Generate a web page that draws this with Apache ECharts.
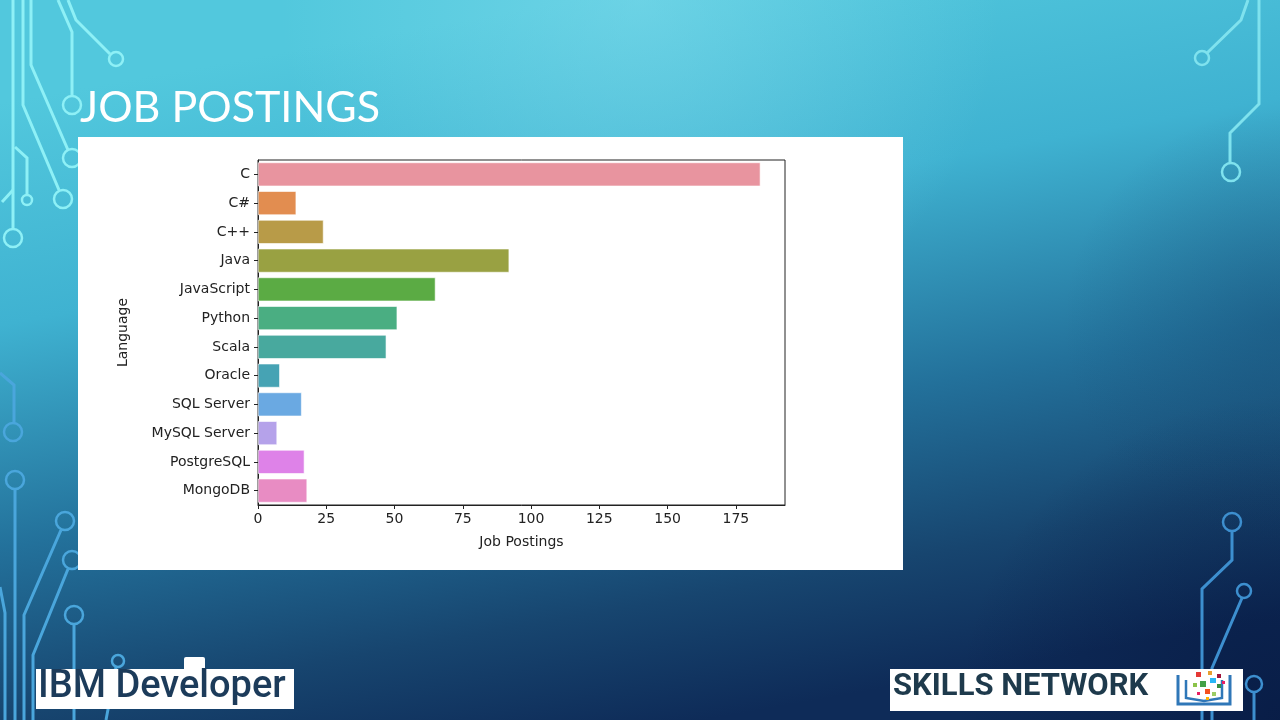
<!DOCTYPE html>
<html>
<head>
    <meta charset="utf-8">
    <title>Job Postings</title>
    <script type="text/javascript" src="https://cdn.jsdelivr.net/npm/echarts@6/dist/echarts.min.js"></script>
    <style>
        html, body { margin: 0; padding: 0; }
        #main { width: 1280px; height: 720px; }
    </style>
</head>
<body>
<div id="main"></div>

<script type="text/javascript">
    // data
    var languages = ['C', 'C#', 'C++', 'Java', 'JavaScript', 'Python', 'Scala', 'Oracle',
        'SQL Server', 'MySQL Server', 'PostgreSQL', 'MongoDB'];
    var postings = [184, 14, 24, 92, 65, 51, 47, 8, 16, 7, 17, 18];
    var barColors = ['#e8949f', '#e28d50', '#b89b48', '#99a142', '#5bab44', '#4aae82',
        '#48a99e', '#46a3b4', '#6aa9e2', '#b5a2ea', '#de82e8', '#e88cc3'];

    var myChart = echarts.init(document.getElementById('main'));

    // circuit decoration helpers
    function wire(points, color) {
        return { type: 'polyline', silent: true, z: 1,
            shape: { points: points },
            style: { stroke: color, lineWidth: 3, fill: null } };
    }
    function pad(cx, cy, r, color) {
        return { type: 'circle', silent: true, z: 1,
            shape: { cx: cx, cy: cy, r: r },
            style: { stroke: color, lineWidth: 2.5, fill: null } };
    }

    var lightC = '#8ef0f6';
    var midC = '#7fe2ee';
    var blueC = '#4aa6dc';

    var graphics = [
        // background
        { type: 'rect', silent: true, z: 0, shape: { x: 0, y: 0, width: 1280, height: 720 },
            style: { fill: new echarts.graphic.LinearGradient(0.45, 0, 0.55, 1, [
                { offset: 0, color: '#52c8dd' },
                { offset: 0.3, color: '#3fb2d1' },
                { offset: 0.6, color: '#23719b' },
                { offset: 0.83, color: '#17456f' },
                { offset: 1, color: '#0e2b58' }]) } },
        { type: 'rect', silent: true, z: 0, shape: { x: 0, y: 0, width: 1280, height: 720 },
            style: { fill: new echarts.graphic.RadialGradient(0.5, 0, 0.5, [
                { offset: 0, color: 'rgba(140,225,240,0.45)' },
                { offset: 1, color: 'rgba(140,225,240,0)' }]) } },
        { type: 'rect', silent: true, z: 0, shape: { x: 0, y: 0, width: 1280, height: 720 },
            style: { fill: new echarts.graphic.RadialGradient(1, 1, 0.45, [
                { offset: 0, color: 'rgba(5,20,60,0.6)' },
                { offset: 1, color: 'rgba(5,20,60,0)' }]) } },
        { type: 'rect', silent: true, z: 0, shape: { x: 0, y: 0, width: 1280, height: 720 },
            style: { fill: new echarts.graphic.RadialGradient(1, 0.45, 0.3, [
                { offset: 0, color: 'rgba(20,70,110,0.35)' },
                { offset: 1, color: 'rgba(20,70,110,0)' }]) } },

        // top-left circuits
        wire([[13, 0], [13, 229]], lightC), pad(13, 238, 9, lightC),
        wire([[23, 0], [23, 105], [59, 190]], lightC), pad(63, 199, 9, lightC),
        wire([[31, 0], [31, 65], [68, 150]], lightC), pad(72, 158, 9, lightC),
        wire([[58, 0], [72, 32], [72, 96]], lightC), pad(72, 105, 9, lightC),
        wire([[68, 0], [76, 20], [110, 54]], lightC), pad(116, 59, 7, lightC),
        wire([[15, 147], [27, 158], [27, 195]], lightC), pad(27, 200, 5, lightC),
        wire([[2, 202], [13, 190]], lightC),

        // bottom-left circuits
        wire([[0, 373], [14, 385], [14, 423]], blueC), pad(13, 432, 9, blueC),
        pad(15, 480, 9, blueC), wire([[15, 489], [15, 720]], blueC),
        pad(65, 521, 9, blueC), wire([[61, 530], [24, 615], [24, 720]], blueC),
        pad(72, 560, 9, blueC), wire([[68, 569], [33, 655], [33, 720]], blueC),
        pad(74, 615, 9, blueC), wire([[74, 624], [74, 720]], blueC),
        pad(118, 661, 6, blueC), wire([[116, 667], [106, 720]], blueC),
        wire([[0, 587], [5, 613], [5, 720]], blueC),

        // top-right circuits
        wire([[1248, 0], [1241, 20], [1207, 53]], midC), pad(1202, 58, 7, midC),
        wire([[1259, 0], [1259, 104], [1230, 133], [1230, 163]], midC), pad(1231, 172, 9, midC),

        // bottom-right circuits
        pad(1232, 522, 9, '#3d8fcf'), wire([[1232, 531], [1232, 560], [1202, 589], [1202, 720]], '#3d8fcf'),
        pad(1244, 591, 7, '#3d8fcf'), wire([[1242, 598], [1212, 668], [1212, 720]], '#3d8fcf'),
        pad(1254, 684, 8, '#3d8fcf'), wire([[1254, 692], [1254, 720]], '#3d8fcf'),

        // slide title
        { type: 'text', z: 2, left: 80, top: 87,
            style: { text: 'JOB POSTINGS', fill: '#ffffff', font: '43px "Lato", sans-serif' } },

        // white chart panel
        { type: 'rect', silent: true, z: 2, shape: { x: 78, y: 137, width: 825, height: 433 },
            style: { fill: '#ffffff' } },

        // IBM Developer logo
        { type: 'rect', silent: true, z: 2, shape: { x: 36, y: 669, width: 258, height: 40 },
            style: { fill: '#ffffff' } },
        { type: 'rect', silent: true, z: 3, shape: { x: 184, y: 657, width: 21, height: 15, r: 2 },
            style: { fill: '#ffffff' } },
        { type: 'text', z: 3, left: 38, top: 668,
            style: { text: 'IBM Developer', fill: '#1c3b5a', font: '500 38px "Roboto", sans-serif' } },

        // Skills Network logo
        { type: 'rect', silent: true, z: 2, shape: { x: 890, y: 669, width: 353, height: 42 },
            style: { fill: '#ffffff' } },
        { type: 'text', z: 3, left: 893, top: 672,
            style: { text: 'SKILLS NETWORK', fill: '#1e3a4c', font: 'bold 31px "Roboto", sans-serif' } },
        { type: 'polyline', z: 3, silent: true,
            shape: { points: [[1178, 675], [1178, 704], [1204, 704], [1230, 704], [1230, 675]] },
            style: { stroke: '#2f77b8', lineWidth: 3, fill: null } },
        { type: 'polyline', z: 3, silent: true,
            shape: { points: [[1186, 680], [1186, 698], [1204, 701], [1222, 698], [1222, 680]] },
            style: { stroke: '#2f77b8', lineWidth: 2.5, fill: null } },
        { type: 'rect', z: 4, silent: true, shape: { x: 1196, y: 672, width: 5, height: 5 }, style: { fill: '#e53935' } },
        { type: 'rect', z: 4, silent: true, shape: { x: 1208, y: 671, width: 4, height: 4 }, style: { fill: '#e8a030' } },
        { type: 'rect', z: 4, silent: true, shape: { x: 1217, y: 674, width: 4, height: 4 }, style: { fill: '#a0143c' } },
        { type: 'rect', z: 4, silent: true, shape: { x: 1193, y: 683, width: 4, height: 4 }, style: { fill: '#8bc34a' } },
        { type: 'rect', z: 4, silent: true, shape: { x: 1200, y: 681, width: 6, height: 6 }, style: { fill: '#43a047' } },
        { type: 'rect', z: 4, silent: true, shape: { x: 1210, y: 678, width: 6, height: 5 }, style: { fill: '#29b6f6' } },
        { type: 'rect', z: 4, silent: true, shape: { x: 1217, y: 684, width: 4, height: 4 }, style: { fill: '#388e3c' } },
        { type: 'rect', z: 4, silent: true, shape: { x: 1205, y: 689, width: 5, height: 5 }, style: { fill: '#f4511e' } },
        { type: 'rect', z: 4, silent: true, shape: { x: 1212, y: 692, width: 4, height: 4 }, style: { fill: '#9ccc65' } },
        { type: 'rect', z: 4, silent: true, shape: { x: 1197, y: 692, width: 3, height: 3 }, style: { fill: '#e91e63' } },
        { type: 'rect', z: 4, silent: true, shape: { x: 1222, y: 681, width: 3, height: 3 }, style: { fill: '#e91e63' } },
        { type: 'rect', z: 4, silent: true, shape: { x: 1206, y: 697, width: 3, height: 3 }, style: { fill: '#ffb300' } }
    ];

    var option = {
        animation: false,
        graphic: graphics,
        textStyle: { fontFamily: 'DejaVu Sans' },
        grid: {
            left: 258, top: 160, width: 527, height: 345,
            show: true, borderColor: '#222222', borderWidth: 1, backgroundColor: 'transparent',
            z: 5
        },
        xAxis: {
            type: 'value', min: 0, max: 193, interval: 25,
            name: 'Job Postings', nameLocation: 'middle', nameGap: 30,
            nameTextStyle: { color: '#222222', fontSize: 14 },
            axisLine: { show: true, lineStyle: { color: '#222222' } },
            axisTick: { show: true, length: 4, lineStyle: { color: '#222222' } },
            axisLabel: { color: '#222222', fontSize: 14, margin: 7, showMaxLabel: false },
            splitLine: { show: false },
            z: 5
        },
        yAxis: {
            type: 'category', data: languages, inverse: true,
            name: 'Language', nameLocation: 'middle', nameGap: 128,
            nameTextStyle: { color: '#222222', fontSize: 14 },
            axisLine: { show: true, lineStyle: { color: '#222222' } },
            axisTick: { show: true, length: 4, alignWithLabel: true, lineStyle: { color: '#222222' } },
            axisLabel: { color: '#222222', fontSize: 14, margin: 8 },
            z: 5
        },
        series: [{
            type: 'bar',
            z: 5,
            barCategoryGap: '17%',
            data: postings.map(function (v, i) {
                return { value: v, itemStyle: { color: barColors[i], borderColor: '#ffffff', borderWidth: 0.6 } };
            })
        }]
    };
    myChart.setOption(option);
</script>
</body>
</html>
